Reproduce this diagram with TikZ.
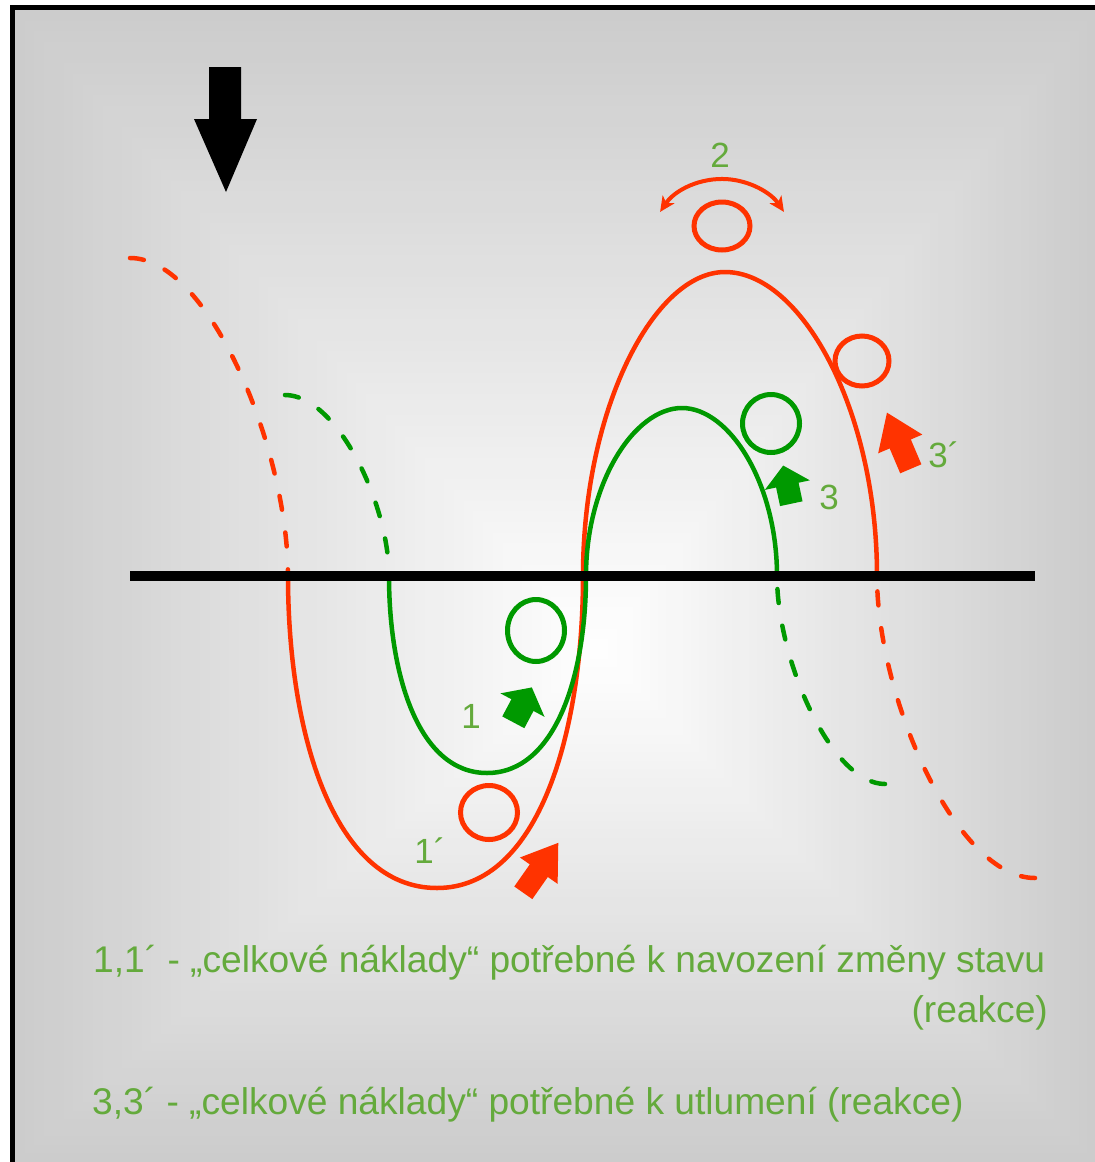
\documentclass[tikz,border=0pt]{standalone}
\usepackage{fontspec}
\setmainfont{Liberation Sans}
\usetikzlibrary{arrows.meta,shapes.geometric}
\definecolor{cred}{RGB}{255,51,0}
\definecolor{cgreen}{RGB}{0,153,0}
\definecolor{ctext}{RGB}{100,170,60}
\tikzset{
  redcurve/.style={draw=cred, line width=4.5pt},
  greencurve/.style={draw=cgreen, line width=4.5pt},
  dashcurve/.style={dash pattern=on 14pt off 23pt, line cap=round},
  ring/.style={ellipse, draw=#1, line width=5pt, inner sep=0pt},
  lbl/.style={text=ctext, font=\fontsize{35}{42}\selectfont, inner sep=0pt},
  bodytext/.style={text=ctext, font=\fontsize{37.15}{45}\selectfont, inner sep=0pt},
  axisline/.style={draw=black, line width=10pt},
}
% #1 colour, #2,#3 tail centre, #4 rotation, #5 shaft length, #6 shaft width, #7 head length, #8 head width
\newcommand{\blkarrow}[8]{%
  \fill[#1, shift={(#2,#3)}, rotate=#4] (-#6/2,0) -- (#6/2,0) -- (#6/2,-#5) -- (#8/2,-#5) -- (0,-#5-#7) -- (-#8/2,-#5) -- (-#6/2,-#5) -- cycle;}
\begin{document}
\begin{tikzpicture}[x=1pt,y=-1pt]
\useasboundingbox (0,0) rectangle (1095,1162);
\fill[white] (0,0) rectangle (1095,1162);
% rectangular gradient background
\foreach \k in {0,...,59}{
  \pgfmathsetmacro{\f}{1-\k/60}
  \pgfmathsetmacro{\g}{20*\f}
  \fill[black!\g] ({600-585*\f},{650-640*\f}) rectangle ({600+495*\f},{650+512*\f});
}
% frame
\fill[black] (10,5) rectangle (1095,10);
\fill[black] (10,5) rectangle (15,1162);
% big black arrow
\fill[black] (209,67) -- (241,67) -- (241,119) -- (257,119) -- (226,192) -- (194,119) -- (209,119) -- cycle;
% red curve
\draw[redcurve, dashcurve] (130,258) .. controls (209,258) and (288,449) .. (288,576);
\draw[redcurve] (288,576) .. controls (288,732) and (333,888) .. (437,888)
  .. controls (539,888) and (583,732) .. (583,576)
  .. controls (583,409) and (654,272) .. (725,272)
  .. controls (801,272) and (877,409) .. (877,576);
\draw[redcurve, dashcurve] (1035,878) .. controls (956,878) and (877,697) .. (877,576);
% green curve
\draw[greencurve, dashcurve] (285,395) .. controls (337,395) and (389,504) .. (389,576);
\draw[greencurve] (389,576) .. controls (389,674) and (418,773) .. (487,773)
  .. controls (556,773) and (586,674) .. (586,576)
  .. controls (586,483.6) and (634,408) .. (682,408)
  .. controls (729.5,408) and (777,483.6) .. (777,576);
\draw[greencurve, dashcurve] (885,784) .. controls (831,784) and (777,659) .. (777,576);
% axis
\coordinate (axL) at (130,576);
\coordinate (axR) at (1035,576);
\draw[axisline] (axL) -- (axR);
% rings
\node[ring=cred, minimum width=56pt, minimum height=48pt] (o2) at (722,226) {};
\node[ring=cred, minimum width=54pt, minimum height=50pt] (o3p) at (862,361) {};
\node[ring=cgreen, minimum width=57pt, minimum height=58pt] (o3) at (771,423.5) {};
\node[ring=cgreen, minimum width=57pt, minimum height=62pt] (o1) at (536,630.5) {};
\node[ring=cred, minimum width=57pt, minimum height=54pt] (o1p) at (489,812.5) {};
% double arrow over top ring
\coordinate (aL) at (660.1,211.9);
\draw[draw=cred, line width=4pt, {Stealth[length=15pt,width=14pt,inset=4pt]}-{Stealth[length=15pt,width=14pt,inset=4pt]}]
  (aL) arc[start angle=146, end angle=34, radius=74.7pt];
% block arrows
\blkarrow{cgreen}{513.3}{722.3}{-28}{19.5}{25}{20}{50}
\blkarrow{cred}{523.3}{892.8}{-35}{27}{22}{34}{46}
\blkarrow{cgreen}{791.3}{503.7}{12}{19}{23}{20}{46}
\blkarrow{cred}{910.8}{468.8}{23}{27}{23}{34}{48}
% labels
\node[lbl] (l1) at (471,716) {1};
\node[lbl] (l1p) at (430,851) {1´};
\node[lbl] (l2) at (720,155) {2};
\node[lbl] (l3) at (829,497) {3};
\node[lbl] (l3p) at (944,455) {3´};
% texts
\node[bodytext, anchor=base west] (t1) at (93,972) {1,1´ - „celkové náklady“ potřebné k navození změny stavu};
\node[bodytext, anchor=base east] (t2) at (1048,1022) {(reakce)};
\node[bodytext, anchor=base west] (t3) at (92,1114) {3,3´ - „celkové náklady“ potřebné k utlumení (reakce)};
\end{tikzpicture}
\end{document}
